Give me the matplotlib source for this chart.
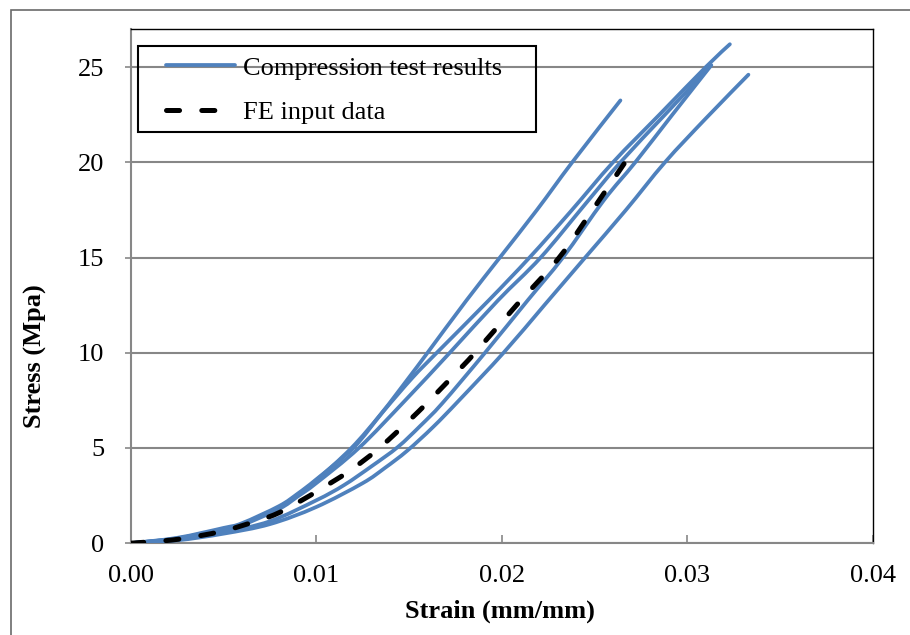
import numpy as np
import matplotlib
matplotlib.use("Agg")
import matplotlib.pyplot as plt
from matplotlib.patches import Rectangle, PathPatch
from matplotlib.path import Path
from matplotlib.lines import Line2D

plt.rcParams["font.family"] = ["Liberation Serif", "DejaVu Serif"]
plt.rcParams["lines.scale_dashes"] = False

# compression test specimens (strain mm/mm, stress MPa)
s1_strain = [0, 0.0025, 0.005, 0.006, 0.008, 0.009, 0.010, 0.0119, 0.0135, 0.0150, 0.0160, 0.0181, 0.0199, 0.0219, 0.0238, 0.0264]
s1_stress = [0, 0.25, 0.75, 1.0, 1.9, 2.55, 3.3, 5.0, 6.8, 8.7, 10.0, 12.75, 15.0, 17.5, 20.0, 23.25]

s2_strain = [0, 0.0025, 0.005, 0.006, 0.008, 0.009, 0.010, 0.0120, 0.0136, 0.0152, 0.0165, 0.0193, 0.0215, 0.0237, 0.0260, 0.0285, 0.0310, 0.0323]
s2_stress = [0, 0.28, 0.8, 1.05, 1.95, 2.6, 3.35, 5.0, 6.9, 8.7, 10.0, 12.75, 15.0, 17.4, 20.0, 22.5, 25.0, 26.2]

s3_strain = [0, 0.0025, 0.005, 0.006, 0.008, 0.009, 0.010, 0.0123, 0.0148, 0.0172, 0.0198, 0.0221, 0.0245, 0.0264, 0.0288, 0.0311]
s3_stress = [0, 0.25, 0.72, 0.95, 1.8, 2.45, 3.15, 5.0, 7.5, 10.0, 12.75, 15.0, 17.8, 20.0, 22.5, 24.9]

s4_strain = [0, 0.0025, 0.005, 0.0075, 0.010, 0.0115, 0.0130, 0.0144, 0.0156, 0.0168, 0.0191, 0.0214, 0.0233, 0.0255, 0.0272, 0.0292, 0.0313]
s4_stress = [0, 0.2, 0.58, 1.15, 2.25, 3.05, 4.05, 5.05, 6.15, 7.35, 10.0, 12.75, 15.0, 18.0, 20.0, 22.5, 25.1]

s5_strain = [0, 0.0025, 0.005, 0.0075, 0.010, 0.0125, 0.0137, 0.0149, 0.0163, 0.0177, 0.0201, 0.0223, 0.0245, 0.0267, 0.0288, 0.0310, 0.0333]
s5_stress = [0, 0.15, 0.5, 1.0, 1.9, 3.15, 3.95, 4.85, 6.1, 7.5, 10.0, 12.5, 15.0, 17.5, 20.0, 22.3, 24.6]

# FE input curve
fe_strain = [0, 0.0025, 0.005, 0.0075, 0.00875, 0.010, 0.0118, 0.0134, 0.0155, 0.0175, 0.01856, 0.0208, 0.0231, 0.0249, 0.02665, 0.0270]
fe_stress = [0, 0.2, 0.65, 1.4, 2.0, 2.7, 3.8, 5.0, 6.9, 8.9, 10.0, 12.5, 15.0, 17.5, 20.0, 20.45]

x_ticks = [0.00, 0.01, 0.02, 0.03, 0.04]
y_ticks = [0, 5, 10, 15, 20, 25]

W, H = 910, 635
BLUE = "#4f81bd"
GRID = "#878787"
FS = 19


def smooth(xs, ys):
    """Excel-style smoothed line: Catmull-Rom segments as cubic Beziers through the points."""
    p = np.column_stack([xs, ys]).astype(float)
    n = len(p)
    verts, codes = [p[0]], [Path.MOVETO]
    for i in range(n - 1):
        p0, p1, p2, p3 = p[max(i - 1, 0)], p[i], p[i + 1], p[min(i + 2, n - 1)]
        verts += [p1 + (p2 - p0) / 6, p2 - (p3 - p1) / 6, p2]
        codes += [Path.CURVE4] * 3
    return Path(verts, codes)


fig = plt.figure(figsize=(W / 100, H / 100), dpi=100)
# outer chart border (runs off the right / bottom of the crop)
fig.patches.append(Rectangle((11 / W, -0.2), 2, 1.2 - 10 / H, transform=fig.transFigure,
                             fill=False, edgecolor="#6a6a6a", lw=1.2))
ax = fig.add_axes([130.7 / W, 1 - 543.2 / H, 742 / W, 514.2 / H])

specimens = [(s1_strain, s1_stress), (s2_strain, s2_stress), (s3_strain, s3_stress),
             (s4_strain, s4_stress), (s5_strain, s5_stress)]
for sx, sy in specimens:
    ax.add_patch(PathPatch(smooth(sx, sy), fill=False, edgecolor=BLUE, lw=2.7,
                           capstyle="round", joinstyle="round", zorder=3))
ax.add_patch(PathPatch(smooth(fe_strain, fe_stress), fill=False, edgecolor="black", lw=3.6,
                       linestyle=(0, (9.4, 16)), capstyle="round", zorder=4))

ax.set_xlim(0, 0.04)
ax.set_ylim(0, 27)
ax.set_xticks(x_ticks)
ax.set_yticks(y_ticks)
ax.set_xticklabels([f"{v:.2f}" for v in x_ticks])
ax.set_yticklabels([str(v) for v in y_ticks])
ax.yaxis.grid(True, color=GRID, lw=1.5)
ax.set_axisbelow(True)
ax.tick_params(axis="x", direction="in", length=6, width=1.2, color=GRID, labelsize=FS, pad=16)
ax.tick_params(axis="y", direction="out", length=4, width=1.2, color=GRID, labelsize=FS, pad=15)
for side in ("left", "bottom"):
    ax.spines[side].set_color(GRID)
    ax.spines[side].set_linewidth(1.5)
for side in ("top", "right"):
    ax.spines[side].set_color("black")
    ax.spines[side].set_linewidth(1.0)

ax.set_xlabel("Strain (mm/mm)", fontsize=FS, fontweight="bold", va="center")
ax.set_ylabel("Stress (Mpa)", fontsize=FS, fontweight="bold", va="center")
ax.xaxis.set_label_coords(0.4977, (543.2 - 611) / 514.2)
ax.yaxis.set_label_coords((35 - 130.7) / 742, (543.2 - 356) / 514.2)

# legend box drawn separately to get Excel's padding
fig.patches.append(Rectangle((137.7 / W, 1 - 132.3 / H), (536 - 137.7) / W, (132.3 - 45.7) / H,
                             transform=fig.transFigure, fill=False, edgecolor="black", lw=1.5, zorder=5))
handles = [Line2D([], [], color=BLUE, lw=2.7, solid_capstyle="round"),
           Line2D([], [], color="black", lw=3.6, dashes=(9.4, 16), dash_capstyle="round")]
leg = ax.legend(handles, ["Compression test results", "FE input data"],
                loc="upper left", bbox_to_anchor=(155 / W, 1 - 45.7 / H), bbox_transform=fig.transFigure,
                frameon=False, fontsize=FS, borderpad=0.4, handlelength=2.65, handletextpad=0.28,
                labelspacing=0.8, borderaxespad=0)
leg.set_zorder(6)

fig.savefig("out.png", dpi=100)
